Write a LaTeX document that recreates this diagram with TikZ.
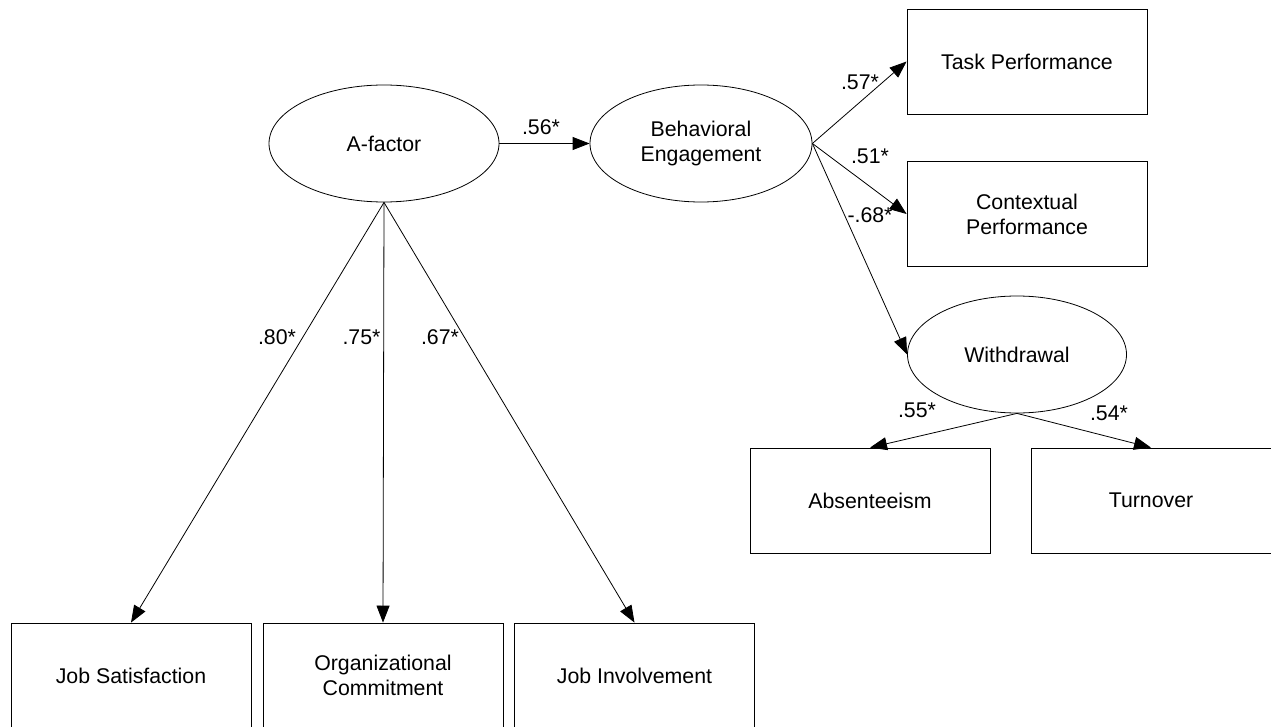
\documentclass[tikz,border=0pt]{standalone}
\usepackage{fontspec}
\setmainfont{Liberation Sans}
\usetikzlibrary{shapes.geometric,arrows.meta}
\begin{document}
\begin{tikzpicture}[x=1pt,y=-1pt,
  every node/.style={font=\fontsize{21.3}{25}\selectfont, align=center},
  latent/.style={draw, ellipse, line width=0.8pt, minimum height=117pt, inner sep=0pt},
  observed/.style={draw, rectangle, line width=0.8pt, minimum width=240pt, minimum height=105pt, inner sep=0pt},
  path/.style={draw, line width=0.8pt, -{Triangle[length=17pt,width=13pt]}},
  coef/.style={inner sep=0pt}
]
\useasboundingbox (0,0) rectangle (1271,727);

% latent factors
\node[latent, minimum width=230pt] (af) at (384,143.5) {A-factor};
\node[latent, minimum width=222pt] (be) at (701,143.5) {Behavioral\\Engagement};
\node[latent, minimum width=219pt] (wd) at (1017,354.5) {Withdrawal};

% observed outcomes
\node[observed] (tp) at (1027,61.5) {Task Performance};
\node[observed] (cp) at (1027,214) {Contextual\\Performance};
\node[observed] (ab) at (870,500.5) {Absenteeism};
\node[observed] (to) at (1151,500.5) {Turnover};
\node[observed] (js) at (131,675.5) {Job Satisfaction};
\node[observed] (oc) at (383,675.5) {Organizational\\Commitment};
\node[observed] (ji) at (634.5,675.5) {Job Involvement};

% structural paths
\draw[path] (af.east) -- (be.west);
\draw[path] (be.east) -- (tp.west);
\draw[path] (be.east) -- (cp.west);
\draw[path] (be.east) -- (wd.west);
\draw[path] (wd.south) -- (ab.north);
\draw[path] (wd.south) -- (to.north);
\draw[path] (af.south) -- (js.north);
\draw[path] (af.south) -- (oc.north);
\draw[path] (af.south) -- (ji.north);

% path coefficients
\node[coef] (c1) at (541,127) {.56*};
\node[coef] (c2) at (860,82) {.57*};
\node[coef] (c3) at (870,156) {.51*};
\node[coef] (c4) at (870,215) {-.68*};
\node[coef] (c5) at (917,410) {.55*};
\node[coef] (c6) at (1109,413) {.54*};
\node[coef] (c7) at (277,337) {.80*};
\node[coef] (c8) at (361.5,337) {.75*};
\node[coef] (c9) at (440,337) {.67*};
\end{tikzpicture}
\end{document}
